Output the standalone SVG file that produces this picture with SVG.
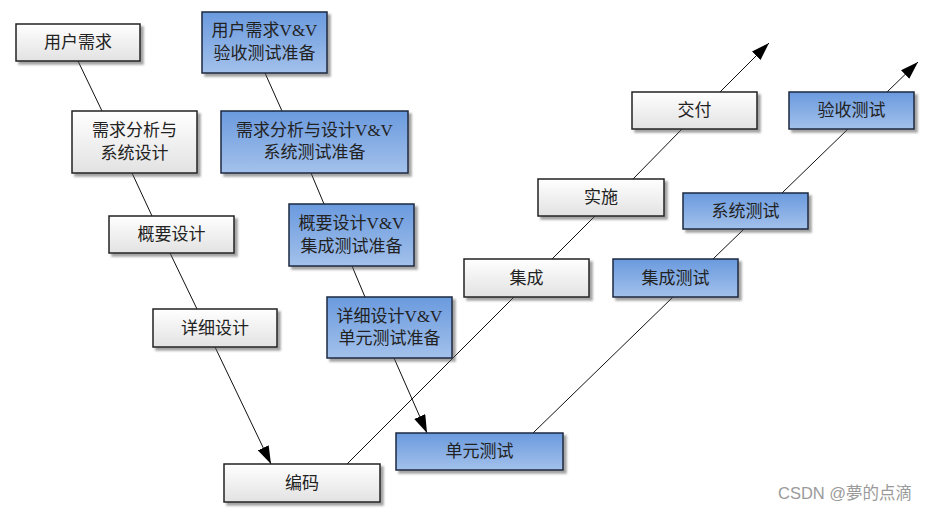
<svg xmlns="http://www.w3.org/2000/svg" width="930" height="512" viewBox="0 0 930 512">
<defs>
<linearGradient id="gw" x1="0" y1="0" x2="0" y2="1">
<stop offset="0" stop-color="#ffffff"/>
<stop offset="1" stop-color="#e2e2e2"/>
</linearGradient>
<linearGradient id="gb" x1="0" y1="0" x2="0" y2="1">
<stop offset="0" stop-color="#6a9ade"/>
<stop offset="1" stop-color="#a3c1eb"/>
</linearGradient>
<filter id="sh" x="-10%" y="-20%" width="125%" height="150%">
<feDropShadow dx="3" dy="3" stdDeviation="1" flood-color="#555" flood-opacity="0.55"/>
</filter>
<marker id="ar" viewBox="0 0 18 12" refX="18" refY="6" markerWidth="18" markerHeight="12" markerUnits="userSpaceOnUse" orient="auto">
<path d="M0,0 L18,6 L0,12 z" fill="#000"/>
</marker>
<style>
.w{fill:url(#gw);stroke:#222;stroke-width:1.5;filter:url(#sh)}
.b{fill:url(#gb);stroke:#1c2840;stroke-width:1.5;filter:url(#sh)}
.t{font-family:"Liberation Serif","Noto Sans CJK SC",serif;font-size:17px;fill:#222;text-anchor:middle;dominant-baseline:central}
.c{stroke:#111;stroke-width:1;fill:none}
.wm{font-family:"Liberation Sans","Noto Sans CJK SC",sans-serif;font-size:16.5px;fill:#9a9a9a}
</style>
</defs>
<rect width="930" height="512" fill="#fff"/>
<g id="connectors">
<line class="c" x1="78" y1="61" x2="102" y2="111"/>
<line class="c" x1="132" y1="173" x2="152" y2="216"/>
<line class="c" x1="170" y1="253" x2="197" y2="309"/>
<line class="c" x1="215" y1="347" x2="271" y2="464" marker-end="url(#ar)"/>
<line class="c" x1="265" y1="73" x2="282" y2="111"/>
<line class="c" x1="311" y1="173" x2="324" y2="204"/>
<line class="c" x1="352" y1="266" x2="365" y2="297"/>
<line class="c" x1="394" y1="358" x2="427" y2="433" marker-end="url(#ar)"/>
<line class="c" x1="347" y1="464" x2="514" y2="297"/>
<line class="c" x1="552" y1="259" x2="595" y2="216"/>
<line class="c" x1="633" y1="179" x2="682" y2="129"/>
<line class="c" x1="720" y1="92" x2="769" y2="43" marker-end="url(#ar)"/>
<line class="c" x1="533" y1="433" x2="673" y2="297"/>
<line class="c" x1="713" y1="259" x2="744" y2="229"/>
<line class="c" x1="782" y1="193" x2="848" y2="129"/>
<line class="c" x1="887" y1="92" x2="918" y2="62" marker-end="url(#ar)"/>
</g>
<g id="n-yhxq"><rect class="w" x="16" y="24" width="124" height="37"/><text class="t" x="78" y="42.5">用户需求</text></g>
<g id="n-xqfx"><rect class="w" x="72" y="111" width="125" height="62"/><text class="t" x="134.5" y="130">需求分析与</text><text class="t" x="134.5" y="153">系统设计</text></g>
<g id="n-gysj"><rect class="w" x="109" y="216" width="125" height="37"/><text class="t" x="171.5" y="234.5">概要设计</text></g>
<g id="n-xxsj"><rect class="w" x="153" y="309" width="124" height="38"/><text class="t" x="215" y="328">详细设计</text></g>
<g id="n-bm"><rect class="w" x="224" y="464" width="156" height="38"/><text class="t" x="302" y="483">编码</text></g>
<g id="n-jc"><rect class="w" x="464" y="259" width="125" height="38"/><text class="t" x="526.5" y="278">集成</text></g>
<g id="n-ss"><rect class="w" x="538" y="179" width="126" height="37"/><text class="t" x="601" y="197.5">实施</text></g>
<g id="n-jf"><rect class="w" x="632" y="92" width="125" height="37"/><text class="t" x="694.5" y="110.5">交付</text></g>
<g id="n-vv1"><rect class="b" x="202" y="12" width="125" height="61"/><text class="t" x="264.5" y="30">用户需求V&amp;V</text><text class="t" x="264.5" y="53">验收测试准备</text></g>
<g id="n-vv2"><rect class="b" x="221" y="111" width="187" height="62"/><text class="t" x="314.5" y="130">需求分析与设计V&amp;V</text><text class="t" x="314.5" y="152">系统测试准备</text></g>
<g id="n-vv3"><rect class="b" x="289" y="204" width="125" height="62"/><text class="t" x="351.5" y="223">概要设计V&amp;V</text><text class="t" x="351.5" y="246">集成测试准备</text></g>
<g id="n-vv4"><rect class="b" x="327" y="297" width="125" height="61"/><text class="t" x="389.5" y="316">详细设计V&amp;V</text><text class="t" x="389.5" y="338">单元测试准备</text></g>
<g id="n-dycs"><rect class="b" x="396" y="433" width="167" height="37"/><text class="t" x="479.5" y="451.5">单元测试</text></g>
<g id="n-jccs"><rect class="b" x="613" y="259" width="125" height="38"/><text class="t" x="675.5" y="278">集成测试</text></g>
<g id="n-xtcs"><rect class="b" x="683" y="193" width="125" height="36"/><text class="t" x="745.5" y="211">系统测试</text></g>
<g id="n-yscs"><rect class="b" x="789" y="92" width="125" height="37"/><text class="t" x="851.5" y="110.5">验收测试</text></g>
<text class="wm" x="778" y="499">CSDN @夢的点滴</text>
</svg>
